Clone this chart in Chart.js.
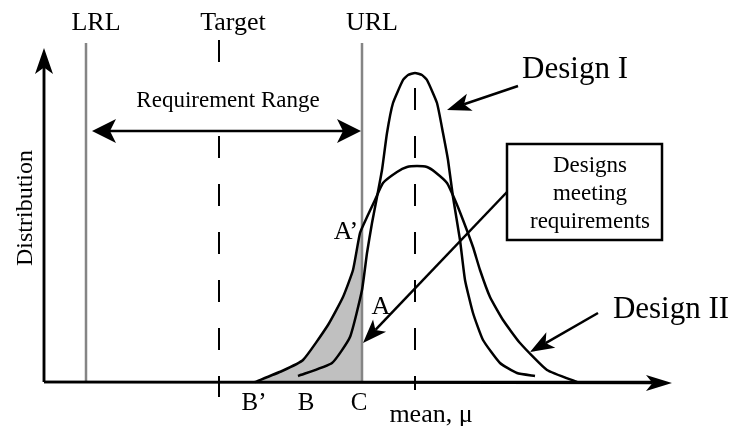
<!DOCTYPE html>
<html>
<head>
<meta charset="utf-8">
<script src="https://cdn.jsdelivr.net/npm/chart.js@4/dist/chart.umd.min.js"></script>
<style>
  html, body { margin: 0; padding: 0; background: #fff; }
  #wrap { width: 732px; height: 426px; position: relative; }
</style>
</head>
<body>
<div id="wrap"><canvas id="c"></canvas></div>
<script>
// ---- Data (x: mean, μ axis units; y: distribution height) ----
const designIX  = [298,332,350,362,367,372,377,382,387,393,403,408,415,422,427,437,443,448,453,460,465,473,483,500,517,535];
const designIY  = [6,19,45,92,129,159,185,212,249,279,302,307,309,307,302,279,249,222,185,142,102,69,42,19,9,6];
const designIIX = [255,282,303,328,343,353,360,367,375,383,397,407,417,427,435,447,455,463,473,480,490,503,520,547,577];
const designIIY = [0,11,22,57,85,112,149,165,182,199,210,215,216,215,210,199,182,162,135,112,85,62,39,12,0];
// area of Design II lying inside the requirement range (B' .. C, up to A')
const shadedX = [255,282,303,328,343,353,360,362,362];
const shadedY = [0,11,22,57,85,112,149,153,0];
// requirement limits and mean
const limitNames = ['LRL', 'Target', 'URL'];
const limitX = [86, 219, 362];
const meanX = 415;
const pointLabels = ["A\u2019", 'A', "B\u2019", 'B', 'C'];

const toPts = (xs, ys) => xs.map((x, i) => ({ x: x, y: ys[i] }));

// ---- geometry / styling config (not data) ----
const vlines = [
  { x: limitX[0], y0: 0,   y1: 339, color: '#858585', dash: [], w: 2.5 },
  { x: limitX[1], y0: -15, y1: 342, color: '#000',    dash: [22, 26], w: 2 },
  { x: limitX[2], y0: 0,   y1: 339, color: '#858585', dash: [], w: 2.5 },
  { x: meanX,     y0: -8,  y1: 294, color: '#000',    dash: [22, 26], w: 2 }
];

const datasets = [
  { label: 'shaded', data: toPts(shadedX, shadedY), showLine: true, borderWidth: 0,
    borderColor: 'rgba(0,0,0,0)', backgroundColor: '#c0c0c0', fill: 'origin', pointRadius: 0, order: 10 }
];
vlines.forEach((v, i) => datasets.push({
  label: 'v' + i, data: [{ x: v.x, y: v.y1 }, { x: v.x, y: v.y0 }], showLine: true,
  borderColor: v.color, borderWidth: v.w, borderDash: v.dash, pointRadius: 0, fill: false, order: 5
}));
datasets.push({ label: 'Design I', data: toPts(designIX, designIY), showLine: true,
  borderColor: '#000', borderWidth: 2.5, pointRadius: 0, fill: false, tension: 0.15, order: 1 });
datasets.push({ label: 'Design II', data: toPts(designIIX, designIIY), showLine: true,
  borderColor: '#000', borderWidth: 2.5, pointRadius: 0, fill: false, tension: 0.15, order: 1 });
// axes
datasets.push({ label: 'yaxis', data: [{ x: 44, y: 0 }, { x: 44, y: 316 }], showLine: true,
  borderColor: '#000', borderWidth: 2.5, pointRadius: 0, fill: false, order: 0 });
datasets.push({ label: 'xaxis', data: [{ x: 44, y: 0 }, { x: 655, y: 0 }], showLine: true,
  borderColor: '#000', borderWidth: 2.5, pointRadius: 0, fill: false, order: 0 });

const F = 'Liberation Serif, "Times New Roman", serif';
const texts = [
  { t: limitNames[0], x: 96,  y: 352, size: 26 },
  { t: limitNames[1], x: 233, y: 352, size: 26 },
  { t: limitNames[2], x: 372, y: 352, size: 26 },
  { t: 'Requirement Range', x: 228, y: 275, size: 23, bg: true },
  { t: 'Design I',  x: 575, y: 304, size: 31 },
  { t: 'Design II', x: 671, y: 64,  size: 31 },
  { t: pointLabels[0], x: 346, y: 143, size: 26 },
  { t: pointLabels[1], x: 381, y: 68,  size: 26 },
  { t: pointLabels[2], x: 254, y: -28, size: 25 },
  { t: pointLabels[3], x: 306, y: -28, size: 25 },
  { t: pointLabels[4], x: 359, y: -28, size: 25 },
  { t: 'mean, \u03bc', x: 431, y: -40, size: 26 },
  { t: 'Distribution', x: 32, y: 174, size: 24, rot: true }
];
const box = { x0: 507, x1: 662, y0: 238, y1: 142, cx: 590,
  lines: ['Designs', 'meeting', 'requirements'], ys: [210, 182, 154], size: 23 };
const arrows = [
  { from: [44, 0],    to: [44, 334],  L: 26, W: 9, both: false },
  { from: [44, 0],    to: [672, -1],  L: 26, W: 8, both: false },
  { from: [92, 251],  to: [361, 251], L: 24, W: 12, both: true },
  { from: [518, 296], to: [447, 272], L: 24, W: 9, both: false },
  { from: [507, 190], to: [363, 39],  L: 24, W: 9, both: false },
  { from: [598, 69],  to: [530, 30],  L: 24, W: 9, both: false }
];

function head(ctx, tx, ty, fx, fy, L, W) {
  const dx = tx - fx, dy = ty - fy, d = Math.hypot(dx, dy);
  const ux = dx / d, uy = dy / d, nx = -uy, ny = ux;
  ctx.beginPath();
  ctx.moveTo(tx, ty);
  ctx.lineTo(tx - L * ux + W * nx, ty - L * uy + W * ny);
  ctx.lineTo(tx - 0.75 * L * ux, ty - 0.75 * L * uy);
  ctx.lineTo(tx - L * ux - W * nx, ty - L * uy - W * ny);
  ctx.closePath();
  ctx.fill();
  return [tx - 0.75 * L * ux, ty - 0.75 * L * uy];
}

const annot = {
  id: 'annot',
  afterDatasetsDraw(chart) {
    const ctx = chart.ctx, xs = chart.scales.x, ys = chart.scales.y;
    const px = v => xs.getPixelForValue(v), py = v => ys.getPixelForValue(v);
    ctx.save();
    ctx.fillStyle = '#000'; ctx.strokeStyle = '#000'; ctx.lineWidth = 2.5; ctx.setLineDash([]);
    // arrows
    arrows.forEach(a => {
      let fx = px(a.from[0]), fy = py(a.from[1]), tx = px(a.to[0]), ty = py(a.to[1]);
      const e1 = head(ctx, tx, ty, fx, fy, a.L, a.W);
      let s = [fx, fy];
      if (a.both) s = head(ctx, fx, fy, tx, ty, a.L, a.W);
      ctx.beginPath(); ctx.moveTo(s[0], s[1]); ctx.lineTo(e1[0], e1[1]); ctx.stroke();
    });
    // box
    const bx0 = px(box.x0), bx1 = px(box.x1), by0 = py(box.y0), by1 = py(box.y1);
    ctx.fillStyle = '#fff';
    ctx.fillRect(bx0, by0, bx1 - bx0, by1 - by0);
    ctx.strokeRect(bx0, by0, bx1 - bx0, by1 - by0);
    ctx.fillStyle = '#000';
    ctx.textAlign = 'center'; ctx.textBaseline = 'alphabetic';
    ctx.font = box.size + 'px ' + F;
    box.lines.forEach((l, i) => ctx.fillText(l, px(box.cx), py(box.ys[i])));
    // texts
    texts.forEach(o => {
      ctx.font = o.size + 'px ' + F;
      const x = px(o.x), y = py(o.y);
      if (o.rot) {
        ctx.save(); ctx.translate(x, y); ctx.rotate(-Math.PI / 2);
        ctx.fillText(o.t, 0, 0); ctx.restore();
        return;
      }
      if (o.bg) {
        const w = ctx.measureText(o.t).width;
        ctx.fillStyle = '#fff';
        ctx.fillRect(x - w / 2 - 4, y - o.size * 0.9, w + 8, o.size * 1.15);
        ctx.fillStyle = '#000';
      }
      ctx.fillText(o.t, x, y);
    });
    ctx.restore();
  }
};

new Chart(document.getElementById('c'), {
  type: 'scatter',
  data: { datasets: datasets },
  options: {
    responsive: true, maintainAspectRatio: false, animation: false, events: [],
    layout: { padding: 0 },
    plugins: { legend: { display: false }, tooltip: { enabled: false } },
    scales: {
      x: { type: 'linear', min: 0, max: 732, display: false },
      y: { type: 'linear', min: -44, max: 382, display: false }
    }
  },
  plugins: [annot]
});
</script>
</body>
</html>
